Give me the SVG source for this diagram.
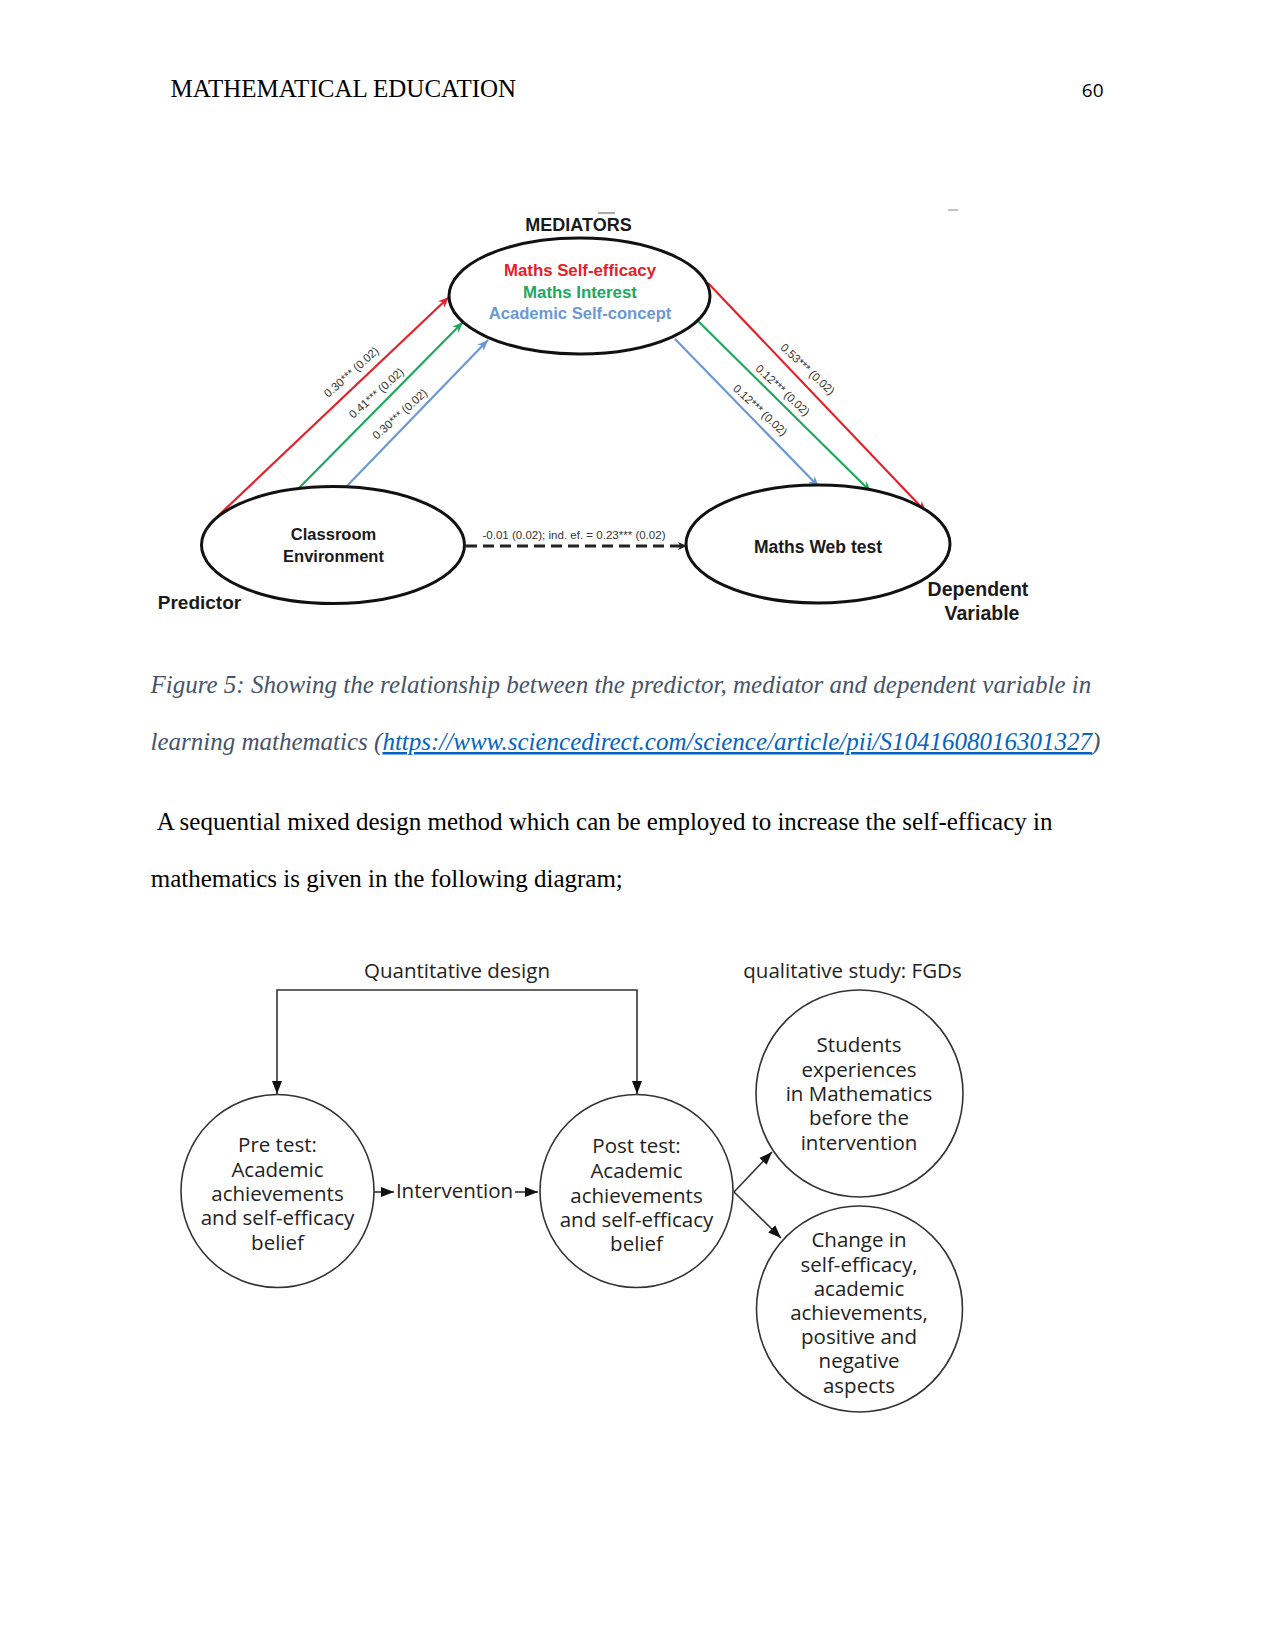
<svg xmlns="http://www.w3.org/2000/svg" width="1275" height="1651" viewBox="0 0 1275 1651">
<style>
.serif{font-family:"Liberation Serif","Times New Roman",serif;font-size:25px;fill:#000}
.cap{font-family:"Liberation Serif","Times New Roman",serif;font-size:25px;font-style:italic;fill:#44546A}
.link{fill:#0563C1;text-decoration:underline}
.b{font-family:"Liberation Sans",Arial,sans-serif;font-weight:bold;fill:#1a1a1a;text-anchor:middle}
.coef{font-family:"Liberation Sans",Arial,sans-serif;font-size:11.5px;fill:#333;text-anchor:middle}
.ell{fill:#fff;stroke:#111;stroke-width:3}
.os{font-family:"Open Sans","Noto Sans",sans-serif;font-size:20.5px;fill:#222;text-anchor:middle}
.circ{fill:#fff;stroke:#333;stroke-width:1.6}
.ln{fill:none;stroke:#333;stroke-width:1.6}
</style>
<defs>
<marker id="mR" markerUnits="userSpaceOnUse" markerWidth="12" markerHeight="10" refX="11" refY="5" orient="auto"><path d="M0,0.5 L11,5 L0,9.5 L3.5,5 z" fill="#e3212b"/></marker>
<marker id="mG" markerUnits="userSpaceOnUse" markerWidth="12" markerHeight="10" refX="11" refY="5" orient="auto"><path d="M0,0.5 L11,5 L0,9.5 L3.5,5 z" fill="#1ea85c"/></marker>
<marker id="mB" markerUnits="userSpaceOnUse" markerWidth="12" markerHeight="10" refX="11" refY="5" orient="auto"><path d="M0,0.5 L11,5 L0,9.5 L3.5,5 z" fill="#6b98d4"/></marker>
<marker id="mK" markerUnits="userSpaceOnUse" markerWidth="10" markerHeight="10" refX="9" refY="5" orient="auto"><path d="M0,1 L9,5 L0,9 L2.5,5 z" fill="#222"/></marker>
<marker id="mT" markerUnits="userSpaceOnUse" markerWidth="14" markerHeight="12" refX="13" refY="6" orient="auto-start-reverse"><path d="M0,1 L13,6 L0,11 z" fill="#111"/></marker>
</defs>

<!-- page text -->
<text class="serif" x="170.5" y="97">MATHEMATICAL EDUCATION</text>
<text x="1103.5" y="97" font-family="'Open Sans','Noto Sans',sans-serif" font-size="19" text-anchor="end" fill="#000">60</text>

<!-- figure 1 -->
<g id="connectors1">
<line x1="219" y1="515" x2="449" y2="297" stroke="#e3212b" stroke-width="2.2" marker-end="url(#mR)"/>
<line x1="298" y1="489" x2="463" y2="322" stroke="#1ea85c" stroke-width="2.2" marker-end="url(#mG)"/>
<line x1="345" y1="488" x2="488" y2="340" stroke="#6b98d4" stroke-width="2.2" marker-end="url(#mB)"/>
<line x1="708" y1="283" x2="926" y2="512" stroke="#e3212b" stroke-width="2.2" marker-end="url(#mR)"/>
<line x1="697" y1="320" x2="871" y2="492" stroke="#1ea85c" stroke-width="2.2" marker-end="url(#mG)"/>
<line x1="675" y1="339" x2="819" y2="487" stroke="#6b98d4" stroke-width="2.2" marker-end="url(#mB)"/>
<line x1="466" y1="546" x2="687" y2="546" stroke="#222" stroke-width="3" stroke-dasharray="11,6" marker-end="url(#mK)"/>
<text class="coef" transform="translate(354,375) rotate(-42)">0.30*** (0.02)</text>
<text class="coef" transform="translate(379,396) rotate(-42)">0.41*** (0.02)</text>
<text class="coef" transform="translate(402.5,417) rotate(-42)">0.30*** (0.02)</text>
<text class="coef" transform="translate(805,372) rotate(43)">0.53*** (0.02)</text>
<text class="coef" transform="translate(780,393) rotate(43)">0.12*** (0.02)</text>
<text class="coef" transform="translate(757.5,413) rotate(43)">0.12*** (0.02)</text>
<text x="574" y="539" font-family="'Liberation Sans',Arial,sans-serif" font-size="11" fill="#333" text-anchor="middle" textLength="183" lengthAdjust="spacingAndGlyphs">-0.01 (0.02); ind. ef. = 0.23*** (0.02)</text>
</g>

<line x1="598" y1="213" x2="615" y2="213" stroke="#555" stroke-width="1"/>
<line x1="948" y1="210" x2="958" y2="210" stroke="#888" stroke-width="1"/>
<text class="b" x="578.5" y="231" font-size="18">MEDIATORS</text>

<g id="mediators">
<ellipse class="ell" cx="579.5" cy="296" rx="130.5" ry="58"/>
<text class="b" x="580" y="276" font-size="16.8" style="fill:#e3212b">Maths Self-efficacy</text>
<text class="b" x="580" y="297.5" font-size="16.8" style="fill:#1ea85c">Maths Interest</text>
<text class="b" x="580" y="319" font-size="16.6" style="fill:#6b98d4">Academic Self-concept</text>
</g>
<g id="predictor">
<ellipse class="ell" cx="333" cy="545" rx="131.5" ry="58.5"/>
<text class="b" x="333.5" y="540" font-size="16.5">Classroom</text>
<text class="b" x="333.5" y="562" font-size="16.5">Environment</text>
<text class="b" x="199.5" y="609" font-size="19">Predictor</text>
</g>
<g id="dependent">
<ellipse class="ell" cx="818" cy="544" rx="132" ry="59"/>
<text class="b" x="818" y="553" font-size="17.5">Maths Web test</text>
<text class="b" x="978" y="596" font-size="19.5">Dependent</text>
<text class="b" x="982" y="620" font-size="19.5">Variable</text>
</g>

<!-- caption and body -->
<text class="cap" x="150.5" y="693">Figure 5: Showing the relationship between the predictor, mediator and dependent variable in</text>
<text class="cap" x="150.5" y="750">learning mathematics (<tspan class="link">https://www.sciencedirect.com/science/article/pii/S1041608016301327</tspan>)</text>
<text class="serif" x="156.7" y="830">A sequential mixed design method which can be employed to increase the self-efficacy in</text>
<text class="serif" x="150.7" y="886.5">mathematics is given in the following diagram;</text>

<!-- figure 2 -->
<g id="connectors2">
<path class="ln" d="M277,1094 V990 H637 V1094" marker-start="url(#mT)" marker-end="url(#mT)"/>
<line class="ln" x1="374" y1="1192" x2="394" y2="1192" marker-end="url(#mT)"/>
<line class="ln" x1="515" y1="1192" x2="538" y2="1192" marker-end="url(#mT)"/>
<line class="ln" x1="734" y1="1192" x2="772" y2="1152" marker-end="url(#mT)"/>
<line class="ln" x1="734" y1="1192" x2="781" y2="1238" marker-end="url(#mT)"/>
<text class="os" x="457" y="978" font-size="20">Quantitative design</text>
<text class="os" x="454.5" y="1198">Intervention</text>
<text class="os" x="852.5" y="978">qualitative study: FGDs</text>
</g>
<g id="pretest">
<circle class="circ" cx="277.5" cy="1191" r="96.5"/>
<text class="os" x="277.5" y="1152">Pre test:</text>
<text class="os" x="277.5" y="1177">Academic</text>
<text class="os" x="277.5" y="1201">achievements</text>
<text class="os" x="277.5" y="1225">and self-efficacy</text>
<text class="os" x="277.5" y="1250">belief</text>
</g>
<g id="posttest">
<circle class="circ" cx="636.5" cy="1191" r="96.5"/>
<text class="os" x="636.5" y="1153">Post test:</text>
<text class="os" x="636.5" y="1178">Academic</text>
<text class="os" x="636.5" y="1203">achievements</text>
<text class="os" x="636.5" y="1227">and self-efficacy</text>
<text class="os" x="636.5" y="1251">belief</text>
</g>
<g id="experiences">
<circle class="circ" cx="859.5" cy="1093.5" r="103.5"/>
<text class="os" x="859" y="1052">Students</text>
<text class="os" x="859" y="1077">experiences</text>
<text class="os" x="859" y="1101">in Mathematics</text>
<text class="os" x="859" y="1125">before the</text>
<text class="os" x="859" y="1150">intervention</text>
</g>
<g id="change">
<circle class="circ" cx="859.5" cy="1309" r="103"/>
<text class="os" x="859" y="1247">Change in</text>
<text class="os" x="859" y="1272">self-efficacy,</text>
<text class="os" x="859" y="1296">academic</text>
<text class="os" x="859" y="1320">achievements,</text>
<text class="os" x="859" y="1344">positive and</text>
<text class="os" x="859" y="1368">negative</text>
<text class="os" x="859" y="1393">aspects</text>
</g>
</svg>
